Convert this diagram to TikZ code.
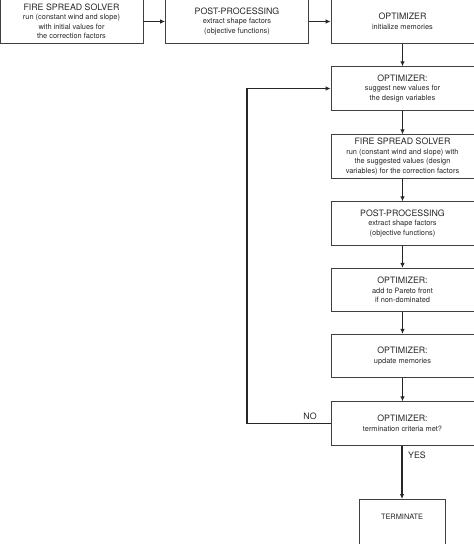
\documentclass[tikz,border=0pt]{standalone}
\usepackage{fontspec}
\setmainfont{TeX Gyre Heros}
\usetikzlibrary{positioning,arrows.meta}
\newcommand{\boxtitle}[1]{{\fontsize{8.8}{9.5}\selectfont #1}}

\begin{document}
\begin{tikzpicture}[x=1pt,y=-1pt,
    stepbox/.style={draw=black!75, line width=0.8pt, rectangle, minimum width=143pt, minimum height=43.5pt,
      inner sep=1pt, align=center, text=black!85, font=\fontsize{7.4}{9.5}\selectfont},
    flow/.style={-{Latex[length=5pt,width=4.5pt]}, line width=1.2pt, black!85},
    answer/.style={text=black!85, font=\fontsize{8.8}{10}\selectfont}]
    \useasboundingbox (0,0) rectangle (474,544);

    % Initial run
    \node[stepbox] (solve0) at (71.5,21.5) {\boxtitle{FIRE SPREAD SOLVER}\\run (constant wind and slope)\\with initial values for\\the correction factors};
    \node[stepbox] (post0) at (237,21.5) {\boxtitle{POST-PROCESSING}\\extract shape factors\\(objective functions)};
    \node[stepbox] (init) at (402.5,21.5) {\boxtitle{OPTIMIZER}\\initialize memories};

    % Optimization loop
    \node[stepbox] (suggest) at (402.5,88.5) {\boxtitle{OPTIMIZER:}\\suggest new values for\\the design variables};
    \node[stepbox] (solve) at (402.5,156.5) {\boxtitle{FIRE SPREAD SOLVER}\\run (constant wind and slope) with\\the suggested values (design\\variables) for the correction factors};
    \node[stepbox] (post) at (402.5,223.5) {\boxtitle{POST-PROCESSING}\\extract shape factors\\(objective functions)};
    \node[stepbox] (pareto) at (402.5,290) {\boxtitle{OPTIMIZER:}\\add to Pareto front\\if non-dominated};
    \node[stepbox] (update) at (402.5,356) {\boxtitle{OPTIMIZER:}\\update memories};
    \node[stepbox] (check) at (402.5,423.5) {\boxtitle{OPTIMIZER:}\\termination criteria met?};

    % End
    \node[stepbox, anchor=north, minimum width=86pt, minimum height=0pt, inner ysep=15pt, text depth=24pt] (stop) at (402,499) {TERMINATE};

    % Arrows
    \draw[flow] (solve0) -- (post0);
    \draw[flow] (post0) -- (init);
    \draw[flow] (init) -- (suggest);
    \draw[flow] (suggest) -- (solve);
    \draw[flow] (solve) -- (post);
    \draw[flow] (post) -- (pareto);
    \draw[flow] (pareto) -- (update);
    \draw[flow] (update) -- (check);
    \draw[flow] (check.south -| stop.north) -- (stop.north);
    \coordinate (back) at (247,423.5);
    \draw[flow] (check.west) -- (back) |- (suggest.west);

    \node[answer] (no) at (310,416) {NO};
    \node[answer] (yes) at (417,455) {YES};
\end{tikzpicture}
\end{document}
